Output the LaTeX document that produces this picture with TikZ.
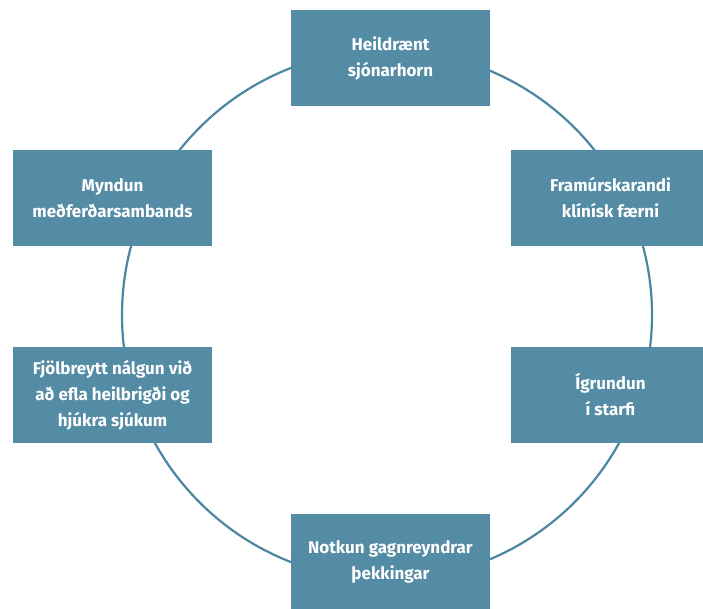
\documentclass[tikz,border=0pt]{standalone}
\usepackage{fontspec}
\setmainfont{Fira Sans}
\usetikzlibrary{positioning}
\definecolor{steel}{RGB}{84,139,165}
\definecolor{ring}{RGB}{76,134,160}

\begin{document}
\begin{tikzpicture}[x = 1pt, y = -1pt, node distance = 140pt and 278pt, on grid,
                    box/.style = {rectangle,
                                  fill = steel,
                                  text = white,
                                  minimum width = 199pt,
                                  minimum height = 96pt,
                                  inner sep = 0pt,
                                  align = center,
                                  font = \bfseries\fontsize{17}{26}\selectfont}]

\clip (0,0) rectangle (703,608);

\coordinate (c) at (387,315);
\draw[ring, line width = 2.2pt] (c) circle (265pt);

\node[box] (holistic) at (390.5,58) {Heildrænt\\sjónarhorn};
\node[box] (relation) [below left = of holistic] {Myndun\\meðferðarsambands};
\node[box] (skills) [below right = 140pt and 220pt of holistic] {Framúrskarandi\\klínísk færni};

\node[box] (diverse) [below = 197pt of relation] {Fjölbreytt nálgun við\\að efla heilbrigði og\\hjúkra sjúkum};
\node[box] (reflect) [below = 197pt of skills] {Ígrundun\\í starfi};

\node[box] (evidence) [below = 503.5pt of holistic] {Notkun gagnreyndrar\\þekkingar};

\end{tikzpicture}
\end{document}
